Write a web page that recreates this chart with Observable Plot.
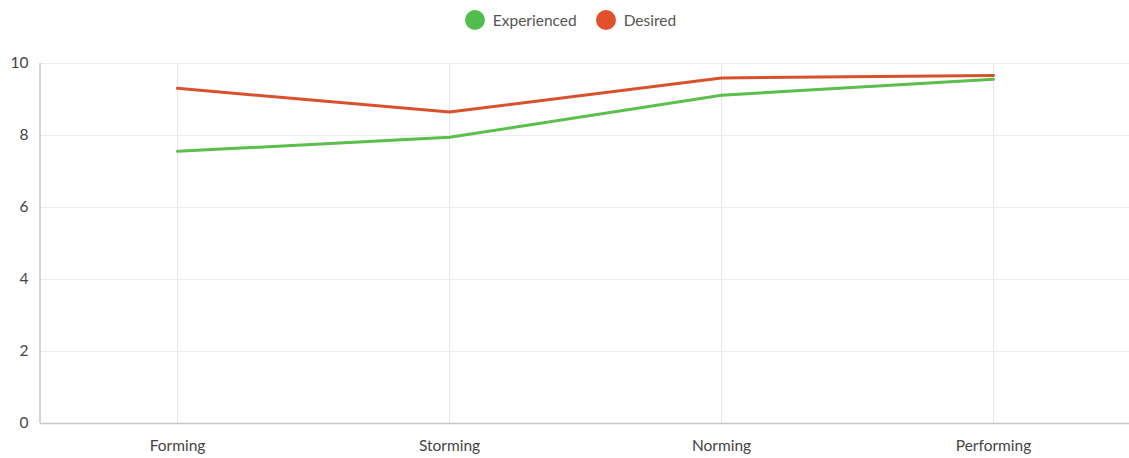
<!DOCTYPE html>
<html>
<head>
<meta charset="utf-8">
<script src="https://cdn.jsdelivr.net/npm/d3@7"></script>
<script src="https://cdn.jsdelivr.net/npm/@observablehq/plot@0.6"></script>
<style>
  html, body { margin: 0; padding: 0; background: #fff; }
  body { width: 1129px; height: 458px; overflow: hidden; font-family: Lato, "Open Sans", sans-serif; }
  #legend { height: 40px; display: flex; justify-content: center; align-items: center; gap: 19px; font-size: 15.5px; color: #555; padding-left: 12px; box-sizing: border-box; }
  .item { display: flex; align-items: center; gap: 8px; }
  .dot { width: 20px; height: 20px; border-radius: 50%; display: inline-block; }
  svg { display: block; }
</style>
</head>
<body>
<div id="legend"></div>
<div id="chart"></div>
<script>
// Team development stages and scores
const stages = ["Forming", "Storming", "Norming", "Performing"];
const experienced = [7.56, 7.95, 9.12, 9.56];
const desired = [9.31, 8.65, 9.6, 9.67];
const seriesNames = ["Experienced", "Desired"];
const seriesColors = ["#5cbe4d", "#d8512d"];
const legendColors = ["#52bd4c", "#e1512b"];
const yTicks = [0, 2, 4, 6, 8, 10];

const rows = [
  ...stages.map((s, i) => ({stage: s, value: experienced[i], series: seriesNames[0]})),
  ...stages.map((s, i) => ({stage: s, value: desired[i], series: seriesNames[1]}))
];

// Legend
const legend = d3.select("#legend");
seriesNames.forEach((name, i) => {
  const item = legend.append("div").attr("class", "item");
  item.append("span").attr("class", "dot").style("background", legendColors[i]);
  item.append("span").text(name);
});

const chart = Plot.plot({
  width: 1129,
  height: 418,
  marginLeft: 40,
  marginRight: 0,
  marginTop: 23,
  marginBottom: 35,
  style: {fontFamily: "Lato, 'Open Sans', sans-serif", fontSize: "14px", color: "#555", background: "#fff"},
  x: {type: "point", domain: stages, padding: 0.5, label: null},
  y: {domain: [0, 10], ticks: yTicks, label: null},
  color: {domain: seriesNames, range: seriesColors},
  marks: [
    Plot.gridX(stages, {stroke: "#e6e6e6", strokeOpacity: 1}),
    Plot.gridY(yTicks, {stroke: "#ebebeb", strokeOpacity: 1}),
    Plot.ruleY([0], {stroke: "#c8c8c8", strokeWidth: 1.5}),
    Plot.axisX({tickSize: 0, tickPadding: 16, fontSize: 15.5, color: "#444"}),
    Plot.axisY(yTicks, {tickSize: 0, tickPadding: 12, fontSize: 15.5, color: "#444"}),
    Plot.line(rows, {x: "stage", y: "value", z: "series", stroke: "series", strokeWidth: 3})
  ]
});

// Left axis line along the plot's left edge
const xr = chart.scale("x").range;
const yr = chart.scale("y").range;
d3.select(chart).append("line")
  .attr("x1", xr[0]).attr("x2", xr[0])
  .attr("y1", yr[0]).attr("y2", yr[1])
  .attr("stroke", "#c8c8c8").attr("stroke-width", 1.5);

document.getElementById("chart").appendChild(chart);
</script>
</body>
</html>
